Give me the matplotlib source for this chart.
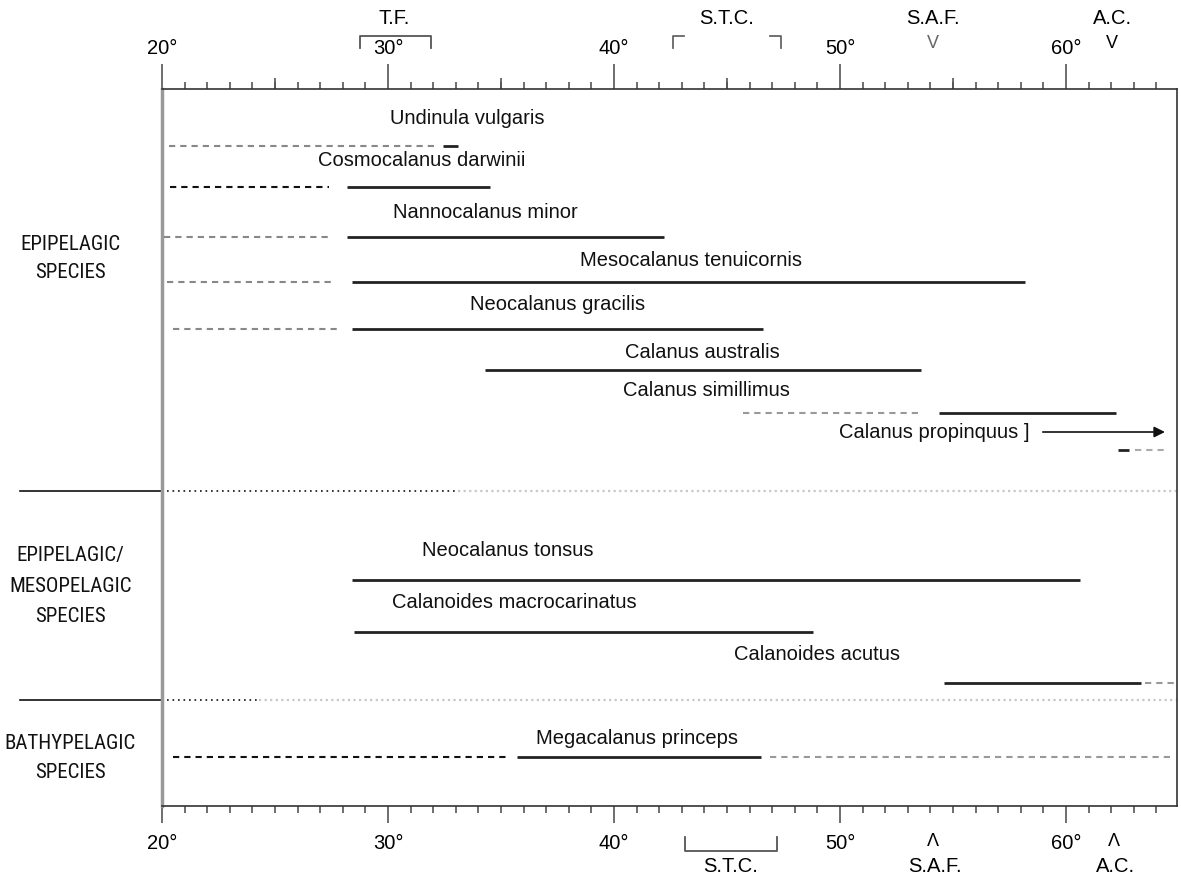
import matplotlib.pyplot as plt
from matplotlib.ticker import MultipleLocator
from matplotlib import font_manager
from matplotlib.font_manager import FontProperties

plt.rcParams['font.family'] = ['Liberation Sans', 'DejaVu Sans']

# look for a condensed sans for the group labels
cond = None
files = [f.fname for f in font_manager.fontManager.ttflist]
for key in ['LiberationSansNarrow-Regular', 'RobotoCondensed-Regular', 'Roboto_Condensed-Regular',
            'DejaVuSansCondensed.ttf', 'OpenSans_Condensed-Regular', 'NotoSans-Condensed.ttf']:
    hits = [f for f in files if key in f]
    if hits:
        cond = hits[0]
        break

## Data: latitude ranges (degrees S) for each species
species = ["Undinula vulgaris", "Cosmocalanus darwinii", "Nannocalanus minor",
           "Mesocalanus tenuicornis", "Neocalanus gracilis", "Calanus australis",
           "Calanus simillimus", "Calanus propinquus ]", "Neocalanus tonsus",
           "Calanoides macrocarinatus", "Calanoides acutus", "Megacalanus princeps"]
# dashed (rare / uncertain) ranges, list of (start, end) per species
dashed = [[(20.3, 32.1)], [(20.35, 27.4)], [(20.1, 27.4)], [(20.2, 27.65)],
          [(20.5, 27.8)], [], [(45.7, 53.6)], [(63.05, 64.4)], [], [],
          [(63.5, 64.8)], [(20.5, 35.2), (46.9, 64.8)]]
# solid (main) ranges
solid = [[(32.45, 33.1)], [(28.2, 34.5)], [(28.2, 42.2)], [(28.4, 58.2)],
         [(28.4, 46.6)], [(34.3, 53.6)], [(54.4, 62.2)], [(62.3, 62.8)],
         [(28.4, 60.6)], [(28.5, 48.8)], [(54.6, 63.3)], [(35.7, 46.5)]]
label_x = [33.5, 31.5, 34.3, 43.4, 37.5, 43.9, 44.1, 58.4, 35.3, 35.6, 49.0, 41.0]

groups = ["EPIPELAGIC\nSPECIES", "EPIPELAGIC/\nMESOPELAGIC\nSPECIES", "BATHYPELAGIC\nSPECIES"]
fronts_top = ["T.F.", "S.T.C.", "S.A.F.", "A.C."]
fronts_bottom = ["S.T.C.", "S.A.F.", "A.C."]
tick_labels = ["20°", "30°", "40°", "50°", "60°"]

## Layout (vertical positions in pixel rows, y axis runs downward)
row_y = [146, 187, 237, 282, 329, 370, 413, 450, 580, 632, 683, 757]
label_y = [118, 160, 212, 260, 305, 352, 390, 432, 550, 602, 655, 738]
dash_col = ['#888888', '#111111', '#888888', '#888888', '#888888', '#888888',
            '#999999', '#aaaaaa', '#888888', '#888888', '#999999', '#111111']
FS = 14.5

fig = plt.figure(figsize=(11.81, 8.81), dpi=100)
ax = fig.add_axes([162 / 1181, 1 - 806 / 881, 1015 / 1181, 717 / 881])
ax.set_xlim(20, 20 + 1015 / 22.6)
ax.set_ylim(806, 89)

for i, name in enumerate(species):
    y = row_y[i]
    for a, b in dashed[i]:
        c = dash_col[i]
        if name.startswith("Megacalanus") and a > 40:
            c = '#999999'
        ax.plot([a, b], [y, y], color=c, lw=1.5, ls=(0, (3, 2.4)), solid_capstyle='butt')
    for a, b in solid[i]:
        ax.plot([a, b], [y, y], color='#222222', lw=2.0, solid_capstyle='butt')
    ha = 'right' if name.endswith("]") else 'center'
    ax.text(label_x[i], label_y[i], name, ha=ha, va='center', fontsize=FS, color='#111111')

# arrow for Calanus propinquus
ax.annotate("", xy=(64.5, 432), xytext=(58.85, 432),
            arrowprops=dict(arrowstyle='-|>', color='#111111', lw=1.2, mutation_scale=16))

# group dividers
for y, xdot in [(491, 33.1), (700, 24.3)]:
    ax.plot([13.7, 20], [y, y], color='#111111', lw=1.2, clip_on=False)
    ax.plot([20, 20], [y - 5, y + 5], color='#111111', lw=1.2, clip_on=False)
    ax.plot([20.2, xdot], [y, y], color='#111111', lw=1.2, ls=(0, (1, 2.3)))
    ax.plot([xdot, 64.9], [y, y], color='#c8c8c8', lw=1.6, ls=(0, (1, 1.5)))

# group labels
if cond:
    gfont = FontProperties(fname=cond, size=15)
else:
    gfont = FontProperties(family='Liberation Sans', size=12.5)
for txt, y, ls in zip(groups, [259, 586, 758], [1.6, 1.75, 1.7]):
    ax.text(15.95, y, txt, ha='center', va='center', fontproperties=gfont,
            linespacing=ls, color='#111111', clip_on=False)

# spines
ax.spines['left'].set_color('#999999')
ax.spines['left'].set_linewidth(2.5)
for s in ['right', 'top', 'bottom']:
    ax.spines[s].set_color('#333333')
    ax.spines[s].set_linewidth(1.2)
ax.set_yticks([])

# bottom ticks
ax.set_xticks([20, 30, 40, 50, 60])
ax.set_xticklabels(tick_labels, fontsize=FS)
ax.xaxis.set_minor_locator(MultipleLocator(1))
ax.tick_params(axis='x', which='major', length=12, width=1.2, color='#555555', pad=8)
ax.tick_params(axis='x', which='minor', length=5, width=1.2, color='#555555')

# top ticks
top = ax.secondary_xaxis('top')
top.set_xticks([20, 30, 40, 50, 60])
top.set_xticklabels(tick_labels, fontsize=FS)
top.xaxis.set_minor_locator(MultipleLocator(1))
top.tick_params(axis='x', which='major', length=18, width=1.2, color='#555555', pad=4)
top.tick_params(axis='x', which='minor', length=5, width=1.2, color='#555555')
top.spines['top'].set_visible(False)
top5 = ax.secondary_xaxis('top')
top5.set_xticks([25, 35, 45, 55])
top5.set_xticklabels([])
top5.tick_params(axis='x', length=8, width=1.2, color='#555555')
top5.spines['top'].set_visible(False)

# front annotations (top)
ax.text(30.27, 18, fronts_top[0], ha='center', va='center', fontsize=FS, clip_on=False)
ax.plot([28.75, 28.75, 31.9, 31.9], [48, 36, 36, 48], color='#555555', lw=1.3, clip_on=False)
ax.text(45.0, 18, fronts_top[1], ha='center', va='center', fontsize=FS, clip_on=False)
ax.plot([42.6, 42.6, 43.1], [48, 36, 36], color='#666666', lw=1.3, clip_on=False)
ax.plot([46.9, 47.4, 47.4], [36, 36, 48], color='#666666', lw=1.3, clip_on=False)
ax.text(54.1, 18, fronts_top[2], ha='center', va='center', fontsize=FS, clip_on=False)
ax.text(54.1, 44, "V", ha='center', va='center', fontsize=13, color='#666666', clip_on=False)
ax.text(62.05, 18, fronts_top[3], ha='center', va='center', fontsize=FS, clip_on=False)
ax.text(62.05, 44, "V", ha='center', va='center', fontsize=13, clip_on=False)

# front annotations (bottom)
ax.plot([43.15, 43.15, 47.2, 47.2], [837, 851, 851, 837], color='#555555', lw=1.3, clip_on=False)
ax.text(45.15, 867, fronts_bottom[0], ha='center', va='center', fontsize=FS, clip_on=False)
ax.text(54.1, 842, "Λ", ha='center', va='center', fontsize=13, clip_on=False)
ax.text(54.2, 867, fronts_bottom[1], ha='center', va='center', fontsize=FS, clip_on=False)
ax.text(62.1, 842, "Λ", ha='center', va='center', fontsize=13, clip_on=False)
ax.text(62.2, 867, fronts_bottom[2], ha='center', va='center', fontsize=FS, clip_on=False)

fig.savefig("out.png", dpi=100)
